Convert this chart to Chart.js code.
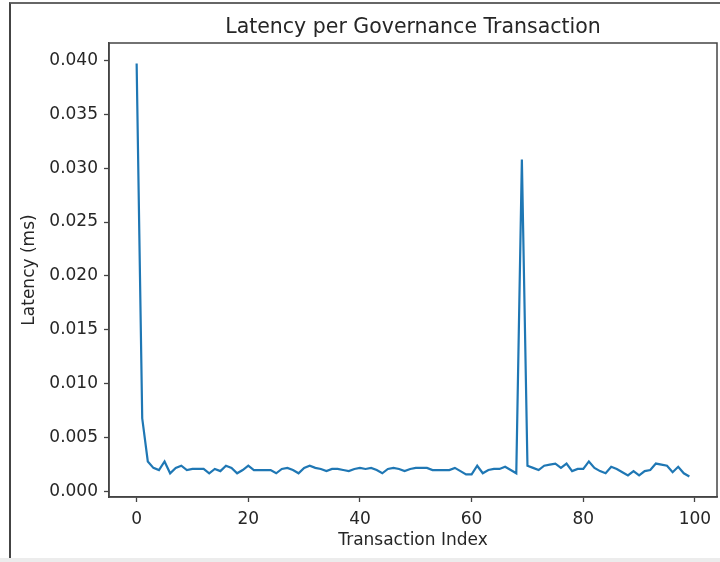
<!DOCTYPE html>
<html>
<head>
<meta charset="utf-8">
<script src="https://cdn.jsdelivr.net/npm/chart.js@4"></script>
<style>
  body { margin: 0; background: #fff; }
  #wrap { position: relative; width: 720px; height: 562px; overflow: hidden; }
  #frame { position: absolute; left: 9px; top: 2px; width: 720px; height: 556px;
           border-left: 2px solid #444; border-top: 2px solid #666; }
  #strip { position: absolute; left: 0; top: 558px; width: 720px; height: 4px; background: #ececec; }
  canvas { position: absolute; left: 0; top: 0; }
</style>
</head>
<body>
<div id="wrap">
  <div id="frame"></div>
  <div id="strip"></div>
  <canvas id="c" width="720" height="562"></canvas>
</div>
<script>
// 每笔治理交易的延迟（ms）
const LATENCY = [
  0.0397, 0.0068, 0.0028, 0.0022, 0.0020, 0.0028, 0.0017, 0.0022, 0.0024, 0.0020,
  0.0021, 0.0021, 0.0021, 0.0017, 0.0021, 0.0019, 0.0024, 0.0022, 0.0017, 0.0020,
  0.0024, 0.0020, 0.0020, 0.0020, 0.0020, 0.0017, 0.0021, 0.0022, 0.0020, 0.0017,
  0.0022, 0.0024, 0.0022, 0.0021, 0.0019, 0.0021, 0.0021, 0.0020, 0.0019, 0.0021,
  0.0022, 0.0021, 0.0022, 0.0020, 0.0017, 0.0021, 0.0022, 0.0021, 0.0019, 0.0021,
  0.0022, 0.0022, 0.0022, 0.0020, 0.0020, 0.0020, 0.0020, 0.0022, 0.0019, 0.0016,
  0.0016, 0.0024, 0.0017, 0.0020, 0.0021, 0.0021, 0.0023, 0.0020, 0.0017, 0.0308,
  0.0024, 0.0022, 0.0020, 0.0024, 0.0025, 0.0026, 0.0022, 0.0026, 0.0019, 0.0021,
  0.0021, 0.0028, 0.0022, 0.0019, 0.0017, 0.0023, 0.0021, 0.0018, 0.0015, 0.0019,
  0.0015, 0.0019, 0.0020, 0.0026, 0.0025, 0.0024, 0.0018, 0.0023, 0.0017, 0.0014
];
const X_TICKS = [0, 20, 40, 60, 80, 100];
const Y_TICKS = [0, 0.005, 0.010, 0.015, 0.020, 0.025, 0.030, 0.035, 0.040];

const FONT = 'DejaVu Sans';
const INK = '#262626';
const SPINE = '#444';

// 画四周边框（matplotlib 风格）
const boxPlugin = {id: 'box', afterDraw: (chart) => {
  const ca = chart.chartArea, ctx = chart.ctx;
  ctx.save();
  ctx.strokeStyle = SPINE;
  ctx.lineWidth = 1.5;
  ctx.strokeRect(ca.left, ca.top, ca.right - ca.left, ca.bottom - ca.top);
  ctx.restore();
}};

new Chart(document.getElementById('c').getContext('2d'), {
  type: 'line',
  data: {
    datasets: [{
      data: LATENCY.map((v, i) => ({x: i, y: v})),
      borderColor: '#1f77b4',
      borderWidth: 2.2,
      pointRadius: 0,
      tension: 0,
      fill: false
    }]
  },
  options: {
    responsive: false,
    animation: false,
    layout: { padding: { left: 0, right: 3, top: 0, bottom: 0 } },
    plugins: {
      legend: { display: false },
      tooltip: { enabled: false },
      title: {
        display: true,
        text: 'Latency per Governance Transaction',
        fullSize: false,
        color: INK,
        font: { family: FONT, size: 20.5, weight: 'normal' },
        padding: { top: 15, bottom: 3.4 }
      }
    },
    scales: {
      x: {
        type: 'linear',
        min: -4.95,
        max: 103.95,
        afterBuildTicks: (s) => { s.ticks = X_TICKS.map(v => ({value: v})); },
        afterFit: (s) => { s.height = 65; },
        grid: { display: true, drawOnChartArea: false, drawTicks: true, tickLength: 5, tickColor: SPINE, tickWidth: 1.3 },
        border: { display: true, color: SPINE, width: 1.5 },
        ticks: { color: INK, padding: 7, maxRotation: 0, font: { family: FONT, size: 17 }, callback: v => String(v) },
        title: { display: true, text: 'Transaction Index', color: INK, font: { family: FONT, size: 17 }, padding: { top: 0, bottom: 10.8 } }
      },
      y: {
        min: -0.0005,
        max: 0.0416,
        afterBuildTicks: (s) => { s.ticks = Y_TICKS.map(v => ({value: v})); },
        afterFit: (s) => { s.width = 109; },
        grid: { display: true, drawOnChartArea: false, drawTicks: true, tickLength: 5, tickColor: SPINE, tickWidth: 1.3 },
        border: { display: true, color: SPINE, width: 1.5 },
        ticks: { color: INK, padding: 6, font: { family: FONT, size: 17 }, callback: v => v.toFixed(3) },
        title: { display: true, text: 'Latency (ms)', color: INK, font: { family: FONT, size: 17 }, padding: { top: 19.8, bottom: 0 } }
      }
    }
  },
  plugins: [boxPlugin]
});
</script>
</body>
</html>
